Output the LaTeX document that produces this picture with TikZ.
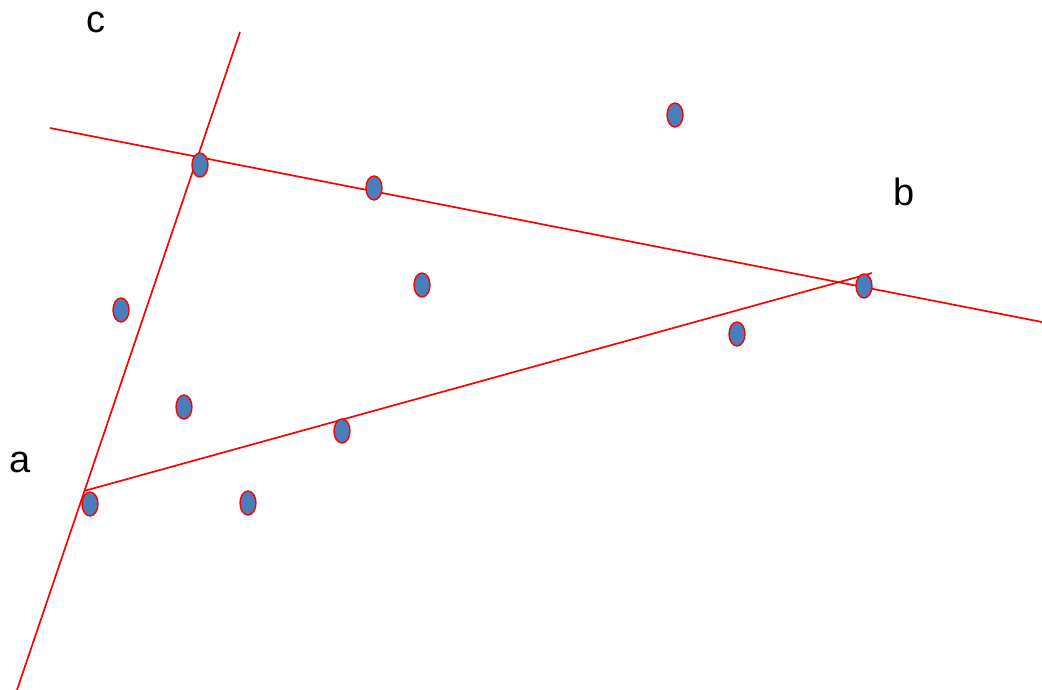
\documentclass[tikz,border=0pt]{standalone}
\usepackage{fontspec}
\setmainfont{Liberation Sans}
\usetikzlibrary{shapes.geometric}
\begin{document}
\begin{tikzpicture}[x=1pt,y=-1pt,
  pt/.style={ellipse,draw=red,line width=1.4pt,fill=ptblue,minimum width=16pt,minimum height=24pt,inner sep=0pt},
  ln/.style={draw=red,line width=1.7pt},
  lab/.style={font=\fontsize{38}{40}\selectfont,inner sep=0pt}]
\definecolor{ptblue}{HTML}{4A7EBB}
\useasboundingbox (0,0) rectangle (1042,690);
% line ends
\coordinate (c1) at (240,32);
\coordinate (c2) at (17,690);
\coordinate (t1) at (50,128);
\coordinate (t2) at (1042,322);
\coordinate (ab1) at (84,491);
\coordinate (ab2) at (872,273);
\draw[ln] (c1) -- (c2);
\draw[ln] (t1) -- (t2);
\draw[ln] (ab1) -- (ab2);
% points
\node[pt] (p1) at (200,165) {};
\node[pt] (p2) at (374,188) {};
\node[pt] (p3) at (675,115) {};
\node[pt] (p4) at (864,286) {};
\node[pt] (p5) at (121,310) {};
\node[pt] (p6) at (422,285) {};
\node[pt] (p7) at (737,334) {};
\node[pt] (p8) at (184,407) {};
\node[pt] (p9) at (342,431) {};
\node[pt] (p10) at (90,504) {};
\node[pt] (p11) at (248,503) {};
% labels
\node[lab] (lc) at (96,22) {c};
\node[lab] (lb) at (904,192) {b};
\node[lab] (la) at (20,462) {a};
\end{tikzpicture}
\end{document}
